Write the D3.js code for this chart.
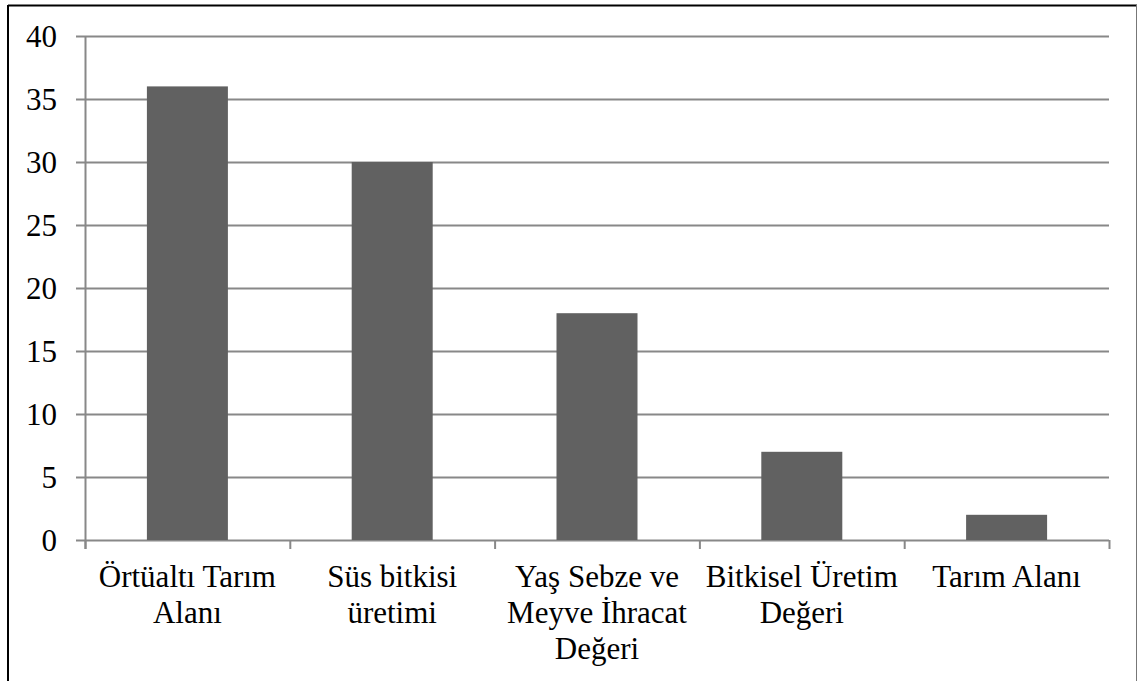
<!DOCTYPE html>
<html><head><meta charset="utf-8">
<script src="https://cdn.jsdelivr.net/npm/d3@7"></script>
<style>body{margin:0;background:#fff;}</style>
</head><body>
<script>
const categories = [["Örtüaltı Tarım","Alanı"],["Süs bitkisi","üretimi"],["Yaş Sebze ve","Meyve İhracat","Değeri"],["Bitkisel Üretim","Değeri"],["Tarım Alanı"]];
const values = [36, 30, 18, 7, 2];
const yTicks = [0,5,10,15,20,25,30,35,40];

(function(){
const svg = d3.select("body").append("svg").attr("width",1138).attr("height",681)
  .style("display","block").style("font-family","'Liberation Serif'");
// border
svg.append("line").attr("x1",8).attr("x2",8).attr("y1",5).attr("y2",681).attr("stroke","#000").attr("stroke-width",2);
svg.append("line").attr("x1",8).attr("x2",1137).attr("y1",5.5).attr("y2",5.5).attr("stroke","#000").attr("stroke-width",2);
svg.append("line").attr("x1",1136.5).attr("x2",1136.5).attr("y1",5).attr("y2",681).attr("stroke","#777").attr("stroke-width",1);

const pLeft=85, pRight=1109, pTop=36, pBottom=540;
const xb = d3.scaleBand().domain(d3.range(values.length)).range([pLeft,pRight]);
const y = d3.scaleLinear().domain([0,40]).range([pBottom,pTop]);

svg.append("g").selectAll("line").data(yTicks).join("line")
  .attr("x1",76).attr("x2",pRight).attr("y1",d=>Math.round(y(d))+0.5).attr("y2",d=>Math.round(y(d))+0.5)
  .attr("stroke","#888").attr("stroke-width",2);
svg.append("line").attr("x1",pLeft+0.5).attr("x2",pLeft+0.5).attr("y1",pTop).attr("y2",pBottom+9).attr("stroke","#888").attr("stroke-width",2);
const bw = 81;
svg.append("g").selectAll("rect").data(values).join("rect")
  .attr("x",(d,i)=>xb(i)+xb.bandwidth()/2-bw/2).attr("width",bw)
  .attr("y",d=>y(d)).attr("height",d=>y(0)-y(d)).attr("fill","#616161");
svg.append("g").selectAll("line").data(d3.range(values.length+1)).join("line")
  .attr("x1",i=>pLeft+i*xb.bandwidth()+0.5).attr("x2",i=>pLeft+i*xb.bandwidth()+0.5)
  .attr("y1",pBottom).attr("y2",pBottom+9).attr("stroke","#888").attr("stroke-width",2);
svg.append("g").selectAll("text").data(yTicks).join("text")
  .attr("x",57).attr("y",d=>y(d)).attr("dy","0.34em").attr("text-anchor","end")
  .style("font-family",d=>"'Liberation Serif'").attr("font-size",31).text(d=>d);
svg.append("g").selectAll("text").data(categories).join("text")
  .style("font-family",d=>"'Liberation Serif'").attr("font-size",31).attr("text-anchor","middle")
  .each(function(lines,i){
    const t=d3.select(this);
    lines.forEach((l,j)=>t.append("tspan").attr("x",xb(i)+xb.bandwidth()/2).attr("y",587+j*36).text(l));
  });
})();
</script>
</body></html>
